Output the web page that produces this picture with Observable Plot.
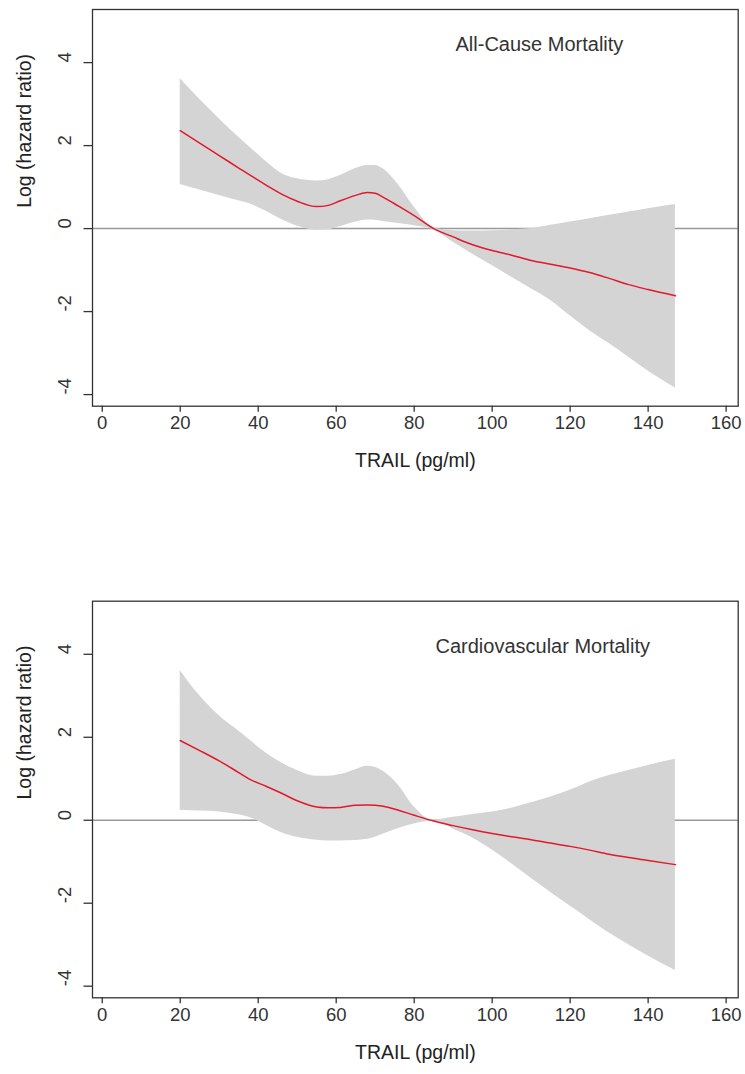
<!DOCTYPE html>
<html>
<head>
<meta charset="utf-8">
<script src="https://cdn.jsdelivr.net/npm/d3@7"></script>
<script src="https://cdn.jsdelivr.net/npm/@observablehq/plot@0.6"></script>
<style>
  html, body { margin: 0; padding: 0; background: #fff; }
  svg { display: block; }
</style>
</head>
<body>
<div id="chart"></div>
<script>
// ---- data ----
const trail = [20, 25, 30, 35, 38, 42, 46, 50, 55, 58, 61, 65, 68, 70, 72, 76, 80, 85, 90, 95, 100, 105, 110, 115, 120, 125, 130, 135, 140, 147];

// All-cause mortality
const allFit   = [2.36, 2.06, 1.76, 1.46, 1.28, 1.05, 0.83, 0.66, 0.53, 0.56, 0.67, 0.80, 0.87, 0.85, 0.76, 0.54, 0.31, 0.00, -0.20, -0.39, -0.53, -0.64, -0.77, -0.86, -0.95, -1.06, -1.20, -1.35, -1.47, -1.62];
const allUpper = [3.61, 3.12, 2.65, 2.20, 1.95, 1.62, 1.33, 1.20, 1.15, 1.18, 1.28, 1.45, 1.52, 1.52, 1.44, 1.05, 0.52, 0.02, -0.05, -0.06, -0.05, -0.03, 0.00, 0.08, 0.16, 0.24, 0.32, 0.40, 0.48, 0.58];
const allLower = [1.06, 0.93, 0.80, 0.67, 0.59, 0.42, 0.22, 0.06, -0.04, -0.03, 0.05, 0.16, 0.21, 0.20, 0.17, 0.12, 0.07, -0.03, -0.33, -0.62, -0.89, -1.17, -1.45, -1.73, -2.10, -2.46, -2.77, -3.10, -3.43, -3.84];

// Cardiovascular mortality
const cvFit   = [1.92, 1.68, 1.43, 1.15, 0.98, 0.82, 0.65, 0.47, 0.32, 0.30, 0.31, 0.36, 0.37, 0.36, 0.34, 0.24, 0.12, -0.02, -0.13, -0.23, -0.32, -0.40, -0.47, -0.55, -0.63, -0.72, -0.82, -0.90, -0.97, -1.07];
const cvUpper = [3.61, 3.00, 2.52, 2.15, 1.92, 1.62, 1.38, 1.20, 1.06, 1.06, 1.10, 1.22, 1.30, 1.28, 1.18, 0.84, 0.32, 0.00, 0.07, 0.14, 0.20, 0.29, 0.42, 0.56, 0.72, 0.92, 1.08, 1.20, 1.32, 1.47];
const cvLower = [0.24, 0.22, 0.20, 0.13, 0.06, -0.12, -0.30, -0.41, -0.48, -0.50, -0.50, -0.49, -0.46, -0.41, -0.34, -0.20, -0.09, -0.02, -0.21, -0.43, -0.72, -1.05, -1.40, -1.74, -2.07, -2.40, -2.72, -3.00, -3.27, -3.62];

const xTicks = [0, 20, 40, 60, 80, 100, 120, 140, 160];
const yTicks = [-4, -2, 0, 2, 4];
const panelTitles = ["All-Cause Mortality", "Cardiovascular Mortality"];
const xLabel = "TRAIL (pg/ml)";
const yLabel = "Log (hazard ratio)";

const FONT = "'Liberation Sans', Arial, Helvetica, sans-serif";

function panel({fit, upper, lower, title, titleDx, titleDy, height, marginTop, marginBottom}) {
  const rows = trail.map((x, i) => ({x, fit: fit[i], lo: lower[i], hi: upper[i]}));
  return Plot.plot({
    width: 745,
    height,
    marginLeft: 92,
    marginRight: 7.3,
    marginTop,
    marginBottom,
    style: {fontFamily: FONT, background: "#fff", color: "#333"},
    x: {domain: [-2.5, 163.1], axis: null},
    y: {domain: [-4.28, 5.28], axis: null},
    marks: [
      Plot.ruleY([0], {stroke: "#999", strokeWidth: 1.5}),
      Plot.areaY(rows, {x: "x", y1: "lo", y2: "hi", fill: "#d4d4d4", curve: "monotone-x"}),
      Plot.line(rows, {x: "x", y: "fit", stroke: "#e3182d", strokeWidth: 1.5, curve: "monotone-x"}),
      Plot.frame({stroke: "#333", strokeWidth: 1.3}),
      Plot.axisX({ticks: xTicks, tickSize: 6, fill: "none", stroke: "#333", strokeWidth: 1.3, label: null}),
      Plot.axisY({ticks: yTicks, tickSize: 8.5, fill: "none", stroke: "#333", strokeWidth: 1.3, label: null}),
      Plot.text(xTicks, {x: d => d, frameAnchor: "bottom", dy: 23, fontSize: 18.5, fill: "#333"}),
      Plot.text(yTicks, {y: d => d, frameAnchor: "left", dx: -27, rotate: -90, fontSize: 18.5, fill: "#333"}),
      Plot.text([xLabel], {frameAnchor: "bottom", dy: 61, fontSize: 19.5, fill: "#222"}),
      Plot.text([yLabel], {frameAnchor: "left", dx: -68, rotate: -90, fontSize: 19.5, fill: "#222"}),
      Plot.text([title], {frameAnchor: "top-left", textAnchor: "start", dx: titleDx, dy: titleDy, fontSize: 20, fill: "#333"})
    ]
  });
}

const root = document.getElementById("chart");
root.appendChild(panel({fit: allFit, upper: allUpper, lower: allLower, title: panelTitles[0], titleDx: 363, titleDy: 27, height: 490, marginTop: 9, marginBottom: 84.3}));
root.appendChild(panel({fit: cvFit, upper: cvUpper, lower: cvLower, title: panelTitles[1], titleDx: 343, titleDy: 38, height: 584, marginTop: 110.7, marginBottom: 76.7}));
</script>
</body>
</html>
